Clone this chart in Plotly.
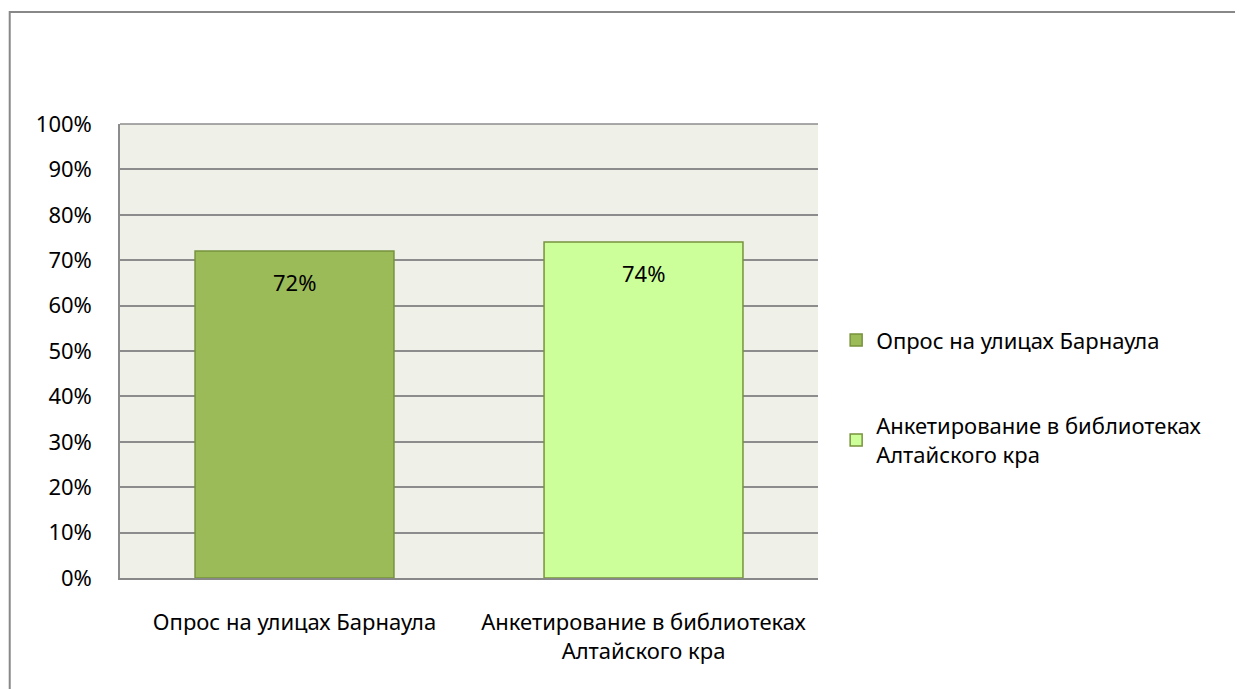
import plotly.graph_objects as go

categories = ["Опрос на улицах Барнаула", "Анкетирование в библиотеках<br>Алтайского кра"]
series_names = ["Опрос на улицах Барнаула", "Анкетирование в библиотеках<br>Алтайского кра"]
values = [72, 74]
fill_colors = ["#9BBB59", "#CCFF99"]
line_colors = ["#77933C", "#77933C"]
y_ticks = [0, 10, 20, 30, 40, 50, 60, 70, 80, 90, 100]
y_tick_labels = [f"{v}%" for v in y_ticks]

FONT = "Noto Sans"
FS = 22

fig = go.Figure()
for i in range(len(values)):
    fig.add_trace(go.Bar(
        x=[categories[i]], y=[values[i]], name=series_names[i],
        marker=dict(color=fill_colors[i], line=dict(color=line_colors[i], width=1.5)),
        width=0.57,
        legendgroup=f"g{i}",
        hoverinfo="x+y",
    ))
    fig.add_annotation(x=categories[i], y=values[i], text=f"{values[i]}%",
                       showarrow=False, yanchor="middle", yshift=-31,
                       font=dict(size=FS, color="black", family=FONT))

fig.update_layout(
    width=1235, height=681,
    margin=dict(l=112, r=425, t=116, b=111),
    paper_bgcolor="white", plot_bgcolor="#EFF1E9",
    barmode="overlay",
    font=dict(family=FONT, size=FS, color="black"),
    showlegend=True,
    legend=dict(x=1.026, y=0.57, xanchor="left", yanchor="top",
                font=dict(size=FS, family=FONT), tracegroupgap=54,
                traceorder="grouped", itemwidth=30),
    xaxis=dict(showgrid=False, showline=True, linecolor="#888888", linewidth=1.5,
               ticks="", ticklabelstandoff=24, tickfont=dict(size=FS)),
    yaxis=dict(range=[0, 100], tickvals=y_ticks, ticktext=y_tick_labels,
               showgrid=True, gridcolor="#8C8C8C", gridwidth=1.5,
               showline=True, linecolor="#8C8C8C", linewidth=1.5, mirror=False,
               ticks="", ticklabelstandoff=22, tickfont=dict(size=FS), zeroline=False),
    shapes=[
        dict(type="rect", xref="paper", yref="paper", x0=-0.158, y0=-0.6, x1=1.8, y1=1.2467,
             line=dict(color="#888888", width=2), fillcolor="rgba(0,0,0,0)", layer="below"),
        dict(type="line", xref="paper", yref="paper", x0=0, y0=1, x1=1, y1=1,
             line=dict(color="#8C8C8C", width=1.5)),
    ],
)

fig.write_html("out.html")
